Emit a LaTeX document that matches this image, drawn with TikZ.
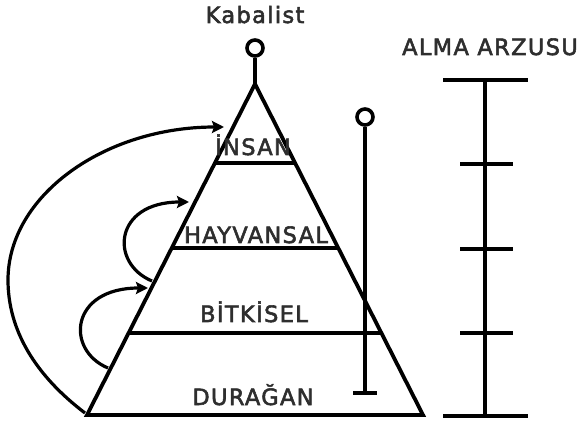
\documentclass[tikz,border=0pt]{standalone}
\usepackage{fontspec}
\newfontfamily\lblfont[LetterSpace=6,FakeBold=2.5]{DejaVu Sans}
\usetikzlibrary{arrows.meta,calc}
\begin{document}
\begin{tikzpicture}[x=1pt,y=-1pt,
  edge/.style={line width=3.8pt},
  bar/.style={line width=4.2pt},
  ring/.style={circle,draw,line width=3.6pt,minimum size=16pt,inner sep=0pt},
  lbl/.style={font=\lblfont\fontsize{22.5}{22.5}\selectfont,text=black!82,anchor=base,inner sep=0pt},
  jump/.style={line width=3.2pt,-{Stealth[length=12pt,width=12pt,inset=2pt]}}]
\useasboundingbox (0,0) rectangle (582,425);
% pyramid
\coordinate (A) at (255,84);
\coordinate (BL) at (87,415);
\coordinate (BR) at (423,415);
\draw[edge,line join=miter] (A) -- (BL) -- (BR) -- cycle;
\draw[edge] ($(BL)!0.761!(A)$) -- ($(BR)!0.761!(A)$);
\draw[edge] ($(BL)!0.5045!(A)$) -- ($(BR)!0.5045!(A)$);
\draw[edge] ($(BL)!0.2477!(A)$) -- ($(BR)!0.2477!(A)$);
% apex ring
\node[ring] (top) at (255,48) {};
\draw[edge] (top.south) -- (A);
% inner rod
\node[ring] (rod) at (365,117) {};
\coordinate (rodend) at (365,393);
\draw[edge] (rod.south) -- (rodend);
\draw[edge] (353,393) -- (377,393);
% scale
\coordinate (S0) at (485,80);
\coordinate (S4) at (485,416);
\draw[bar] (S0) -- (S4);
\draw[bar] (443,80) -- (528,80);
\draw[bar] (443,416) -- (528,416);
\draw[bar] (460,164) -- (513,164);
\draw[bar] (460,249) -- (513,249);
\draw[bar] (460,333) -- (513,333);
% arrows
\coordinate (a1s) at (85,413);
\coordinate (a1e) at (224,127);
\draw[jump] (a1s) .. controls (35,375) and (8,330) .. (8,280) .. controls (8,196) and (104,127) .. (a1e);
\coordinate (a2s) at (108,368);
\coordinate (a2e) at (148,288);
\draw[jump] (a2s) .. controls (65,350) and (70,288) .. (a2e);
\coordinate (a3s) at (152,281);
\coordinate (a3e) at (189,202);
\draw[jump] (a3s) .. controls (109,263) and (114,202) .. (a3e);
% labels
\node[lbl] (kab) at (255,23) {Kabalist};
\node[lbl] (alma) at (490,55) {ALMA ARZUSU};
\node[lbl] (insan) at (253,155) {İNSAN};
\node[lbl] (hay) at (256,243) {HAYVANSAL};
\node[lbl] (bit) at (254,322) {BİTKİSEL};
\node[lbl] (dur) at (253,405) {DURAĞAN};
\end{tikzpicture}
\end{document}
